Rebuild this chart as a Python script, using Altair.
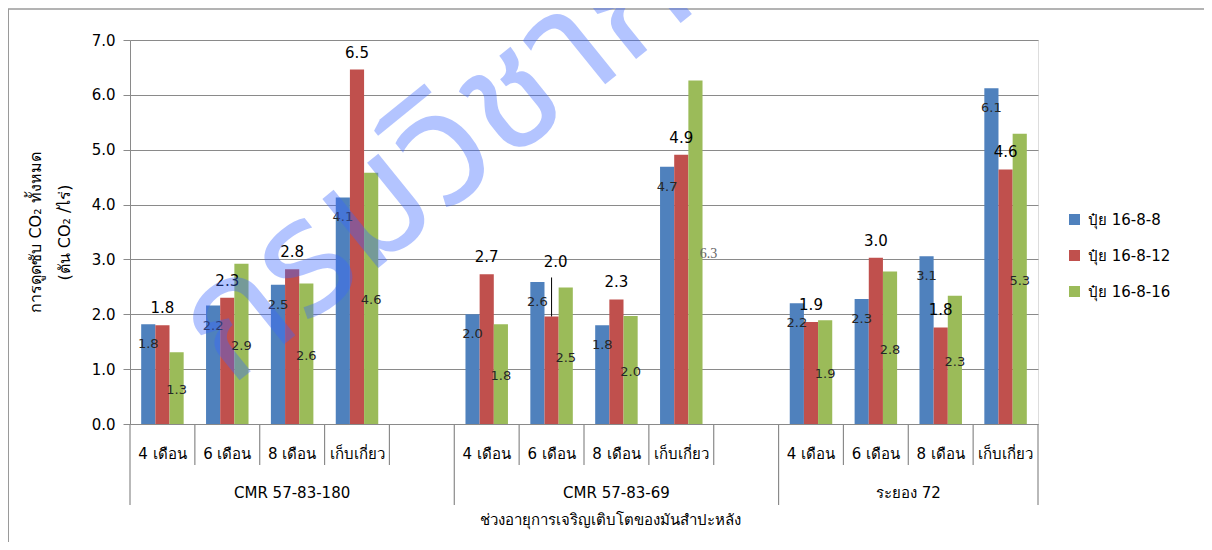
import altair as alt
import pandas as pd

# ---------------- data ----------------
varieties = ["CMR 57-83-180", "CMR 57-83-69", "ระยอง 72"]
periods = ["4 เดือน", "6 เดือน", "8 เดือน", "เก็บเกี่ยว"]
series_names = ["ปุ๋ย 16-8-8", "ปุ๋ย 16-8-12", "ปุ๋ย 16-8-16"]
series_colors = ["#4F81BD", "#C0504D", "#9BBB59"]

# values per variety x period (CMR 57-83-180 | CMR 57-83-69 | ระยอง 72)
co2_16_8_8 = [1.82, 2.16, 2.54, 4.13, 2.00, 2.59, 1.80, 4.69, 2.20, 2.28, 3.06, 6.12]
co2_16_8_12 = [1.80, 2.30, 2.82, 6.46, 2.73, 1.96, 2.27, 4.91, 1.86, 3.03, 1.76, 4.64]
co2_16_8_16 = [1.31, 2.92, 2.56, 4.58, 1.82, 2.49, 1.97, 6.26, 1.89, 2.78, 2.34, 5.29]

y_ticks = [0, 1, 2, 3, 4, 5, 6, 7]
y_title = ["การดูดซับ CO₂ ทั้งหมด", "(ตัน CO₂ /ไร่)"]
x_title = "ช่วงอายุการเจริญเติบโตของมันสำปะหลัง"
watermark_text = "กรมวิชาการเกษตร"

FONT = "Tahoma, 'DejaVu Sans', 'Noto Sans', sans-serif"
GRID = "#8a8a8a"

# ---------------- tables ----------------
series_values = [co2_16_8_8, co2_16_8_12, co2_16_8_16]
slots = []
variety_slots = {}
for vi, v in enumerate(varieties):
    vs = [f"{v}|{p}" for p in periods]
    if vi < len(varieties) - 1:
        vs.append(f"{v}|")  # empty gap slot
    variety_slots[v] = vs
    slots.extend(vs)

rows = []
for vi, v in enumerate(varieties):
    for pi, p in enumerate(periods):
        for si, s in enumerate(series_names):
            rows.append({
                "variety": v, "period": p, "slot": f"{v}|{p}",
                "series": s, "value": series_values[si][vi * 4 + pi],
            })
df = pd.DataFrame(rows)

sep_rows = []
for v in varieties:
    for i, s in enumerate(variety_slots[v]):
        sep_rows.append({"slot": s, "kind": "long" if i == 0 else "short"})
sep_df = pd.DataFrame(sep_rows)
end_df = pd.DataFrame([{"slot": slots[-1]}])

vlab_center, vlab_edge = [], []
for v in varieties:
    vs = variety_slots[v]
    n = len(vs)
    if n % 2 == 1:
        vlab_center.append({"slot": vs[n // 2], "variety": v})
    else:
        vlab_edge.append({"slot": vs[n // 2], "variety": v})

one = pd.DataFrame([{"t": watermark_text}])

# ---------------- scales / axes ----------------
xscale = alt.Scale(domain=slots, paddingInner=0, paddingOuter=0)
xoff = alt.XOffset("series:N", scale=alt.Scale(domain=series_names, paddingInner=0, paddingOuter=0.79))
yscale = alt.Scale(domain=[0, 7], nice=False)

x_axis = alt.Axis(
    title=x_title, labelExpr="split(datum.label, '|')[1]", ticks=False, domain=False,
    grid=False, labelPadding=34, labelBaseline="alphabetic", labelFontSize=15,
    labelAngle=0, labelOverlap=False, labelLimit=200, labelColor="#000",
    titleX=480, titleY=100, titleBaseline="alphabetic", titleAlign="center",
    titleFontSize=15, titleFontWeight="normal", titleColor="#000", labelFont=FONT, titleFont=FONT,
)
y_axis = alt.Axis(
    title=y_title, values=y_ticks, format=".1f", tickSize=7, labelPadding=8,
    labelFontSize=15, labelColor="#000", titleFontSize=16, titleFontWeight="normal",
    titleColor="#000", titlePadding=19, titleLineHeight=29, gridColor=GRID, gridWidth=1.2,
    domainColor=GRID, tickColor=GRID, labelFont=FONT, titleFont=FONT,
)


def X(bp=None):
    if bp is None:
        return alt.X("slot:N", scale=xscale, axis=x_axis)
    return alt.X("slot:N", scale=xscale, axis=x_axis, bandPosition=bp)


def Y(field="value"):
    return alt.Y(f"{field}:Q", scale=yscale, axis=y_axis)


base = alt.Chart(df)

bars = base.mark_bar().encode(
    x=X(),
    xOffset=xoff,
    y=Y(),
    color=alt.Color(
        "series:N",
        scale=alt.Scale(domain=series_names, range=series_colors),
        legend=alt.Legend(
            title=None, orient="none", legendX=937, legendY=172, symbolType="square",
            symbolSize=121, symbolStrokeWidth=0, labelFontSize=15, labelOffset=6,
            rowPadding=20, labelColor="#000", labelFont=FONT, padding=0,
        ),
    ),
)


def enc_text(yfield="value"):
    return dict(x=X(), xOffset=xoff, y=Y(yfield), text=alt.Text("value:Q", format=".1f"))


special_red = (f"datum.series == '{series_names[1]}' && datum.variety == '{varieties[1]}'"
               f" && datum.period == '{periods[1]}'")
special_green = (f"datum.series == '{series_names[2]}' && datum.variety == '{varieties[1]}'"
                 f" && datum.period == '{periods[3]}'")

blue_lab = base.transform_filter(f"datum.series == '{series_names[0]}'").mark_text(
    dy=20, baseline="middle", fontSize=13, color="#262626", font=FONT
).encode(**enc_text())

red_lab = base.transform_filter(f"datum.series == '{series_names[1]}' && !({special_red})").mark_text(
    dy=-17, baseline="middle", fontSize=15, color="#000", font=FONT
).encode(**enc_text())

red_lab_sp = base.transform_filter(special_red).mark_text(
    dy=-54, dx=4, baseline="middle", fontSize=15, color="#000", font=FONT
).encode(**enc_text())

red_leader = base.transform_filter(special_red).mark_rule(
    color="#000", strokeWidth=1, y2Offset=-39
).encode(x=X(), xOffset=xoff, y=Y(), y2="value:Q")

green_lab = base.transform_filter(
    f"datum.series == '{series_names[2]}' && !({special_green})"
).transform_calculate(half="datum.value / 2").mark_text(
    dy=2, baseline="middle", fontSize=13, color="#262626", font=FONT
).encode(**enc_text("half"))

green_lab_sp = base.transform_filter(special_green).transform_calculate(
    half="datum.value / 2"
).mark_text(dx=13, dy=2, baseline="middle", fontSize=14, color="#666666",
            font="'Liberation Serif', serif").encode(**enc_text("half"))

sep_short = alt.Chart(sep_df).transform_filter("datum.kind == 'short'").mark_rule(
    color=GRID, strokeWidth=1.2
).encode(x=X(0), y=alt.value(384), y2=alt.value(425))
sep_long = alt.Chart(sep_df).transform_filter("datum.kind == 'long'").mark_rule(
    color=GRID, strokeWidth=1.2
).encode(x=X(0), y=alt.value(384), y2=alt.value(465))
sep_end = alt.Chart(end_df).mark_rule(color=GRID, strokeWidth=1.2).encode(
    x=X(1), y=alt.value(384), y2=alt.value(465))

vlab_a = alt.Chart(pd.DataFrame(vlab_center)).mark_text(
    fontSize=15, baseline="alphabetic", color="#000", font=FONT
).encode(x=X(0.5), y=alt.value(458), text="variety:N")
vlab_b = alt.Chart(pd.DataFrame(vlab_edge)).mark_text(
    fontSize=15, baseline="alphabetic", color="#000", font=FONT
).encode(x=X(0), y=alt.value(458), text="variety:N")

frame_left = alt.Chart(one).mark_rule(color="#9a9a9a", strokeWidth=2).encode(
    x=alt.value(-122), y=alt.value(-31), y2=alt.value(520))
frame_top = alt.Chart(one).mark_rule(color="#9a9a9a", strokeWidth=1.5).encode(
    x=alt.value(-122), x2=alt.value(1074), y=alt.value(-31))

watermark = alt.Chart(one).mark_text(
    angle=321, fontSize=162, color="#3A66FF", opacity=0.38, align="left",
    baseline="alphabetic", font="'Noto Sans Thai', 'Noto Sans Thai UI', 'Noto Sans', sans-serif",
).encode(x=alt.value(100), y=alt.value(348), text="t:N")

chart = alt.layer(
    bars, blue_lab, red_lab, red_lab_sp, red_leader, green_lab, green_lab_sp,
    sep_short, sep_long, sep_end, vlab_a, vlab_b, frame_left, frame_top, watermark,
).properties(
    width=908, height=384,
    autosize=alt.AutoSizeParams(type="none"),
    padding={"left": 122, "top": 32, "right": 166, "bottom": 118},
).configure_view(stroke=None).configure(font=FONT)

chart.save("out.html", embed_options={"renderer": "svg", "actions": False})
